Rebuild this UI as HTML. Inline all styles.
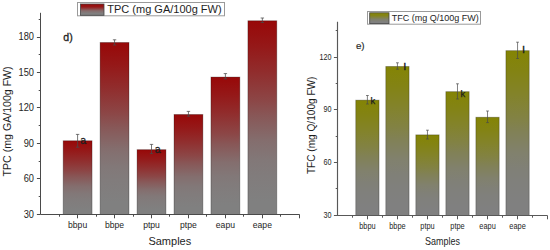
<!DOCTYPE html><html><head><meta charset="utf-8"><style>html,body{margin:0;padding:0;background:#fff;width:550px;height:250px;overflow:hidden}svg{display:block}</style></head><body>
<svg width="550" height="250" viewBox="0 0 550 250" font-family="'Liberation Sans', sans-serif" fill="#1e1e1e">
<defs>
<linearGradient id="gr" x1="0" y1="0" x2="0" y2="1"><stop offset="0" stop-color="rgb(152, 8, 8)"/><stop offset="0.13" stop-color="rgb(149, 24, 24)"/><stop offset="0.26" stop-color="rgb(145, 44, 44)"/><stop offset="0.41" stop-color="rgb(140, 70, 70)"/><stop offset="0.49" stop-color="rgb(136, 87, 87)"/><stop offset="0.62" stop-color="rgb(132, 110, 110)"/><stop offset="0.72" stop-color="rgb(130, 120, 120)"/><stop offset="0.8" stop-color="rgb(129, 124, 124)"/><stop offset="0.93" stop-color="rgb(128, 128, 128)"/><stop offset="1" stop-color="rgb(128, 128, 128)"/></linearGradient>
<linearGradient id="go" x1="0" y1="0" x2="0" y2="1"><stop offset="0" stop-color="rgb(132, 132, 4)"/><stop offset="0.13" stop-color="rgb(131, 131, 20)"/><stop offset="0.26" stop-color="rgb(131, 131, 41)"/><stop offset="0.41" stop-color="rgb(130, 130, 68)"/><stop offset="0.49" stop-color="rgb(129, 129, 86)"/><stop offset="0.62" stop-color="rgb(129, 129, 109)"/><stop offset="0.72" stop-color="rgb(128, 128, 119)"/><stop offset="0.8" stop-color="rgb(128, 128, 124)"/><stop offset="0.93" stop-color="rgb(128, 128, 128)"/><stop offset="1" stop-color="rgb(128, 128, 128)"/></linearGradient>
<linearGradient id="grl" x1="0" y1="0" x2="0" y2="1"><stop offset="0" stop-color="#9c0606"/><stop offset="0.25" stop-color="#961818"/><stop offset="0.6" stop-color="#866c6c"/><stop offset="0.85" stop-color="#808080"/></linearGradient>
<linearGradient id="gol" x1="0" y1="0" x2="0" y2="1"><stop offset="0" stop-color="#868604"/><stop offset="0.25" stop-color="#848416"/><stop offset="0.6" stop-color="#80806a"/><stop offset="0.85" stop-color="#808080"/></linearGradient>
</defs>
<rect x="63.15" y="140.75" width="28.90" height="73.75" fill="url(#gr)" stroke="#000" stroke-opacity="0.28" stroke-width="0.9"/>
<rect x="100.10" y="42.45" width="28.90" height="172.05" fill="url(#gr)" stroke="#000" stroke-opacity="0.28" stroke-width="0.9"/>
<rect x="137.05" y="149.65" width="28.90" height="64.85" fill="url(#gr)" stroke="#000" stroke-opacity="0.28" stroke-width="0.9"/>
<rect x="174.00" y="114.45" width="28.90" height="100.05" fill="url(#gr)" stroke="#000" stroke-opacity="0.28" stroke-width="0.9"/>
<rect x="210.95" y="77.05" width="28.90" height="137.45" fill="url(#gr)" stroke="#000" stroke-opacity="0.28" stroke-width="0.9"/>
<rect x="247.90" y="20.75" width="28.90" height="193.75" fill="url(#gr)" stroke="#000" stroke-opacity="0.28" stroke-width="0.9"/>
<path d="M77.60 134.40V147.20M75.90 134.40H79.30M75.90 147.20H79.30" stroke="#4a4a4a" stroke-width="0.75" fill="none"/>
<path d="M114.55 39.80V45.00M112.85 39.80H116.25M112.85 45.00H116.25" stroke="#4a4a4a" stroke-width="0.75" fill="none"/>
<path d="M151.50 144.40V153.60M149.80 144.40H153.20M149.80 153.60H153.20" stroke="#4a4a4a" stroke-width="0.75" fill="none"/>
<path d="M188.45 111.40V116.20M186.75 111.40H190.15M186.75 116.20H190.15" stroke="#4a4a4a" stroke-width="0.75" fill="none"/>
<path d="M225.40 73.60V78.80M223.70 73.60H227.10M223.70 78.80H227.10" stroke="#4a4a4a" stroke-width="0.75" fill="none"/>
<path d="M262.35 18.00V22.50M260.65 18.00H264.05M260.65 22.50H264.05" stroke="#4a4a4a" stroke-width="0.75" fill="none"/>
<path d="M40.5 12.8V214.5H299.6" stroke="#4a4a4a" stroke-width="1" fill="none"/>
<path d="M36.90 214.50H40.50M36.90 178.50H40.50M36.90 143.50H40.50M36.90 107.50H40.50M36.90 72.50H40.50M36.90 37.50H40.50M38.70 196.50H40.50M38.70 161.50H40.50M38.70 125.50H40.50M38.70 90.50H40.50M38.70 54.50H40.50M38.70 19.50H40.50M77.50 214.50V218.30M59.50 214.50V216.70M114.50 214.50V218.30M96.50 214.50V216.70M151.50 214.50V218.30M133.50 214.50V216.70M188.50 214.50V218.30M169.50 214.50V216.70M225.50 214.50V218.30M206.50 214.50V216.70M262.50 214.50V218.30M243.50 214.50V216.70M299.50 214.50V218.30M280.50 214.50V216.70" stroke="#4a4a4a" stroke-width="1" fill="none"/>
<text transform="translate(34.0 217.70) scale(0.9 1)" font-size="10.3" text-anchor="end">30</text>
<text transform="translate(34.0 182.24) scale(0.9 1)" font-size="10.3" text-anchor="end">60</text>
<text transform="translate(34.0 146.78) scale(0.9 1)" font-size="10.3" text-anchor="end">90</text>
<text transform="translate(34.0 111.32) scale(0.9 1)" font-size="10.3" text-anchor="end">120</text>
<text transform="translate(34.0 75.86) scale(0.9 1)" font-size="10.3" text-anchor="end">150</text>
<text transform="translate(34.0 40.40) scale(0.9 1)" font-size="10.3" text-anchor="end">180</text>
<text transform="translate(77.60 228.0) scale(1.0 1)" font-size="8.6" text-anchor="middle">bbpu</text>
<text transform="translate(114.55 228.0) scale(1.0 1)" font-size="8.6" text-anchor="middle">bbpe</text>
<text transform="translate(151.50 228.0) scale(1.0 1)" font-size="8.6" text-anchor="middle">ptpu</text>
<text transform="translate(188.45 228.0) scale(1.0 1)" font-size="8.6" text-anchor="middle">ptpe</text>
<text transform="translate(225.40 228.0) scale(1.0 1)" font-size="8.6" text-anchor="middle">eapu</text>
<text transform="translate(262.35 228.0) scale(1.0 1)" font-size="8.6" text-anchor="middle">eape</text>
<rect x="355.75" y="100.15" width="23.30" height="115.35" fill="url(#go)" stroke="#000" stroke-opacity="0.28" stroke-width="0.9"/>
<rect x="385.78" y="66.45" width="23.30" height="149.05" fill="url(#go)" stroke="#000" stroke-opacity="0.28" stroke-width="0.9"/>
<rect x="415.81" y="134.85" width="23.30" height="80.65" fill="url(#go)" stroke="#000" stroke-opacity="0.28" stroke-width="0.9"/>
<rect x="445.84" y="91.65" width="23.30" height="123.85" fill="url(#go)" stroke="#000" stroke-opacity="0.28" stroke-width="0.9"/>
<rect x="475.87" y="117.25" width="23.30" height="98.25" fill="url(#go)" stroke="#000" stroke-opacity="0.28" stroke-width="0.9"/>
<rect x="505.90" y="50.65" width="23.30" height="164.85" fill="url(#go)" stroke="#000" stroke-opacity="0.28" stroke-width="0.9"/>
<path d="M367.40 95.50V104.00M366.00 95.50H368.80M366.00 104.00H368.80" stroke="#4a4a4a" stroke-width="0.7" fill="none"/>
<path d="M397.43 62.80V69.20M396.03 62.80H398.83M396.03 69.20H398.83" stroke="#4a4a4a" stroke-width="0.7" fill="none"/>
<path d="M427.46 130.20V139.00M426.06 130.20H428.86M426.06 139.00H428.86" stroke="#4a4a4a" stroke-width="0.7" fill="none"/>
<path d="M457.49 83.80V99.00M456.09 83.80H458.89M456.09 99.00H458.89" stroke="#4a4a4a" stroke-width="0.7" fill="none"/>
<path d="M487.52 111.00V122.60M486.12 111.00H488.92M486.12 122.60H488.92" stroke="#4a4a4a" stroke-width="0.7" fill="none"/>
<path d="M517.55 42.20V58.50M516.15 42.20H518.95M516.15 58.50H518.95" stroke="#4a4a4a" stroke-width="0.7" fill="none"/>
<path d="M337.5 21.8V215.5H547.5" stroke="#585858" stroke-width="1.15" fill="none"/>
<path d="M333.90 215.50H337.50M333.90 162.50H337.50M333.90 109.50H337.50M333.90 57.50H337.50M335.70 188.50H337.50M335.70 136.50H337.50M335.70 83.50H337.50M335.70 30.50H337.50M367.50 215.50V219.30M352.50 215.50V217.70M397.50 215.50V219.30M382.50 215.50V217.70M427.50 215.50V219.30M412.50 215.50V217.70M457.50 215.50V219.30M442.50 215.50V217.70M487.50 215.50V219.30M472.50 215.50V217.70M517.50 215.50V219.30M502.50 215.50V217.70M547.50 215.50V219.30M532.50 215.50V217.70" stroke="#585858" stroke-width="1" fill="none"/>
<text transform="translate(331.6 217.80) scale(0.82 1)" font-size="8.8" text-anchor="end">30</text>
<text transform="translate(331.6 165.07) scale(0.82 1)" font-size="8.8" text-anchor="end">60</text>
<text transform="translate(331.6 112.34) scale(0.82 1)" font-size="8.8" text-anchor="end">90</text>
<text transform="translate(331.6 59.61) scale(0.82 1)" font-size="8.8" text-anchor="end">120</text>
<text transform="translate(367.40 228.6) scale(0.88 1)" font-size="8.4" text-anchor="middle">bbpu</text>
<text transform="translate(397.43 228.6) scale(0.88 1)" font-size="8.4" text-anchor="middle">bbpe</text>
<text transform="translate(427.46 228.6) scale(0.88 1)" font-size="8.4" text-anchor="middle">ptpu</text>
<text transform="translate(457.49 228.6) scale(0.88 1)" font-size="8.4" text-anchor="middle">ptpe</text>
<text transform="translate(487.52 228.6) scale(0.88 1)" font-size="8.4" text-anchor="middle">eapu</text>
<text transform="translate(517.55 228.6) scale(0.88 1)" font-size="8.4" text-anchor="middle">eape</text>
<rect x="77.5" y="2.5" width="147" height="13.3" fill="#fff" stroke="#9a9a9a" stroke-width="1"/>
<rect x="80.5" y="4" width="23.5" height="11.3" fill="url(#grl)" stroke="#444" stroke-width="0.8"/>
<text x="107.3" y="12.8" font-size="11">TPC (mg GA/100g FW)</text>
<rect x="367.5" y="11.5" width="113" height="12.7" fill="#fff" stroke="#9a9a9a" stroke-width="1"/>
<rect x="369.7" y="12.8" width="19.3" height="10.8" fill="url(#gol)" stroke="#444" stroke-width="0.8"/>
<text x="391.7" y="21.2" font-size="9">TFC (mg Q/100g FW)</text>
<text x="63.3" y="41" font-size="10.6" stroke="#1e1e1e" stroke-width="0.3">d)</text>
<text x="355.9" y="49" font-size="9.8" stroke="#1e1e1e" stroke-width="0.15">e)</text>
<text x="80.2" y="144.2" font-size="10.6" stroke="#1e1e1e" stroke-width="0.3">a</text>
<text x="154.8" y="152.6" font-size="10.6" stroke="#1e1e1e" stroke-width="0.3">a</text>
<text x="370.4" y="104.3" font-size="9.4" stroke="#1e1e1e" stroke-width="0.25">k</text>
<text x="403.7" y="69.6" font-size="9.4" stroke="#1e1e1e" stroke-width="0.5">l</text>
<text x="460.5" y="96.8" font-size="9.4" stroke="#1e1e1e" stroke-width="0.25">k</text>
<text x="522.5" y="53.4" font-size="9.4" stroke="#1e1e1e" stroke-width="0.5">l</text>
<text x="169.8" y="244.8" font-size="11" text-anchor="middle">Samples</text>
<text transform="translate(442.5 244.5) scale(0.9 1)" font-size="10" text-anchor="middle">Samples</text>
<text transform="translate(11.2,121.4) rotate(-90)" font-size="10.6" text-anchor="middle">TPC (mg GA/100g FW)</text>
<text transform="translate(315.1,125.3) rotate(-90)" font-size="10.1" text-anchor="middle">TFC (mg Q/100g FW)</text>
</svg></body></html>
